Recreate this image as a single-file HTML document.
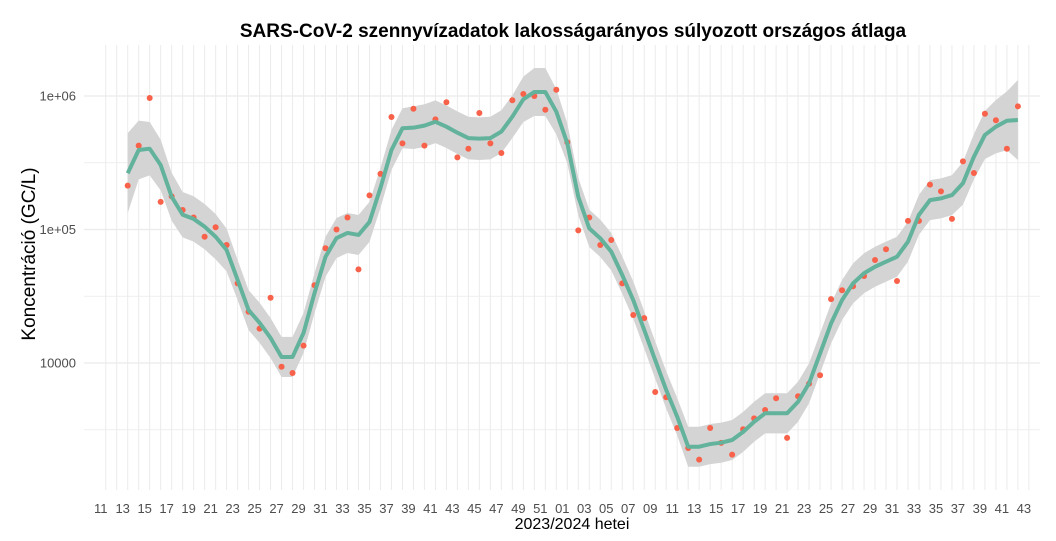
<!DOCTYPE html>
<html><head><meta charset="utf-8"><style>
html,body{margin:0;padding:0;background:#fff;}
svg{display:block;font-family:"Liberation Sans",sans-serif;}
</style></head><body>
<svg id="chart" width="1056" height="541" viewBox="0 0 1056 541">
<text x="573" y="37" text-anchor="middle" font-size="19" font-weight="bold" fill="#000">SARS-CoV-2 szennyvízadatok lakosságarányos súlyozott országos átlaga</text>
<text transform="translate(35,254) rotate(-90)" text-anchor="middle" font-size="19" fill="#000">Koncentráció (GC/L)</text>
<text x="572" y="529" text-anchor="middle" font-size="16" fill="#000">2023/2024 hetei</text>
<g id="grid"></g>
<g id="ribbon"></g>
<g id="points"></g>
<g id="line"></g>
<g id="axes"></g>
</svg>
<script>
const weekLabels = ["11","13","15","17","19","21","23","25","27","29","31","33","35","37","39","41","43","45","47","49","51","01","03","05","07","09","11","13","15","17","19","21","23","25","27","29","31","33","35","37","39","41","43"];
const yTicks = [1000000, 100000, 10000];
const yTickLabels = ["1e+06", "1e+05", "10000"];
const pointValues = [213000,425000,966000,161000,177000,140000,123000,88300,104000,76500,39500,24200,18100,30800,9380,8410,13500,38200,72300,100000,123000,50300,180000,261000,696000,442000,803000,425000,668000,897000,347000,403000,746000,442000,374000,929000,1035000,1000000,789000,1114000,450000,98600,123000,76500,83400,39500,22900,21700,6070,5540,3260,2310,1890,3260,2520,2060,3190,3850,4450,5440,2750,5630,7000,8090,30100,35100,37600,44800,59100,71100,41100,116000,116000,217000,193000,120000,324000,265000,736000,658000,403000,837000];
const smoothValues = [264000,394000,403000,304000,176000,129000,120000,105000,88300,70200,41900,24900,20000,15400,11100,11100,16800,33400,62500,86300,94200,91000,114000,205000,394000,573000,579000,600000,641000,589000,531000,484000,479000,484000,541000,700000,944000,1072000,1072000,763000,442000,176000,102000,85900,68200,45600,29600,17700,10500,6280,3960,2360,2360,2470,2530,2650,3050,3630,4200,4200,4200,5130,7050,11800,19800,29600,39500,47000,52600,57400,62500,81100,129000,166000,171000,181000,222000,351000,511000,589000,653000,661000];
const bandHalfLog = [0.3,0.22,0.2,0.19,0.18,0.17,0.17,0.17,0.17,0.16,0.15,0.15,0.15,0.15,0.15,0.15,0.15,0.15,0.15,0.15,0.15,0.15,0.15,0.15,0.15,0.15,0.16,0.16,0.16,0.16,0.16,0.16,0.16,0.16,0.16,0.16,0.17,0.18,0.18,0.17,0.15,0.14,0.14,0.14,0.14,0.14,0.14,0.14,0.14,0.14,0.14,0.15,0.15,0.15,0.15,0.15,0.15,0.15,0.15,0.15,0.15,0.15,0.15,0.15,0.15,0.15,0.15,0.15,0.15,0.15,0.15,0.15,0.15,0.15,0.15,0.15,0.16,0.17,0.18,0.2,0.22,0.3];

const NS="http://www.w3.org/2000/svg";
const px0=127.7, pw=10.99; // index 0 = 2023 week 13
const X=i=>px0+pw*i;
const Y=v=>96+(6-Math.log10(v))*133.5;
const YL=l=>96+(6-l)*133.5;
const L=84,R=1040,T=45,B=490;
function mk(tag,attrs,parent){const e=document.createElementNS(NS,tag);for(const k in attrs)e.setAttribute(k,attrs[k]);parent.appendChild(e);return e;}
const grid=document.getElementById('grid');
for(let i=-2;i<=82;i++){const x=X(i);
 const ln=mk('line',{x1:x,x2:x,y1:T,y2:B,stroke:'#ebebeb','stroke-width':1},grid);
 
 }
for(let l=3;l<=6.5;l+=0.5){const y=YL(l);if(y<T||y>B)continue;
 const ln=mk('line',{x1:L,x2:R,y1:y,y2:y,stroke:'#ebebeb','stroke-width':Number.isInteger(l)?1.2:0.8},grid);
 
 }
let up=[],dn=[];
smoothValues.forEach((v,i)=>{const lg=Math.log10(v);up.push(X(i)+','+YL(lg+bandHalfLog[i]));dn.unshift(X(i)+','+YL(lg-bandHalfLog[i]));});
const rb=mk('polygon',{points:up.concat(dn).join(' '),fill:'#d4d4d4'},document.getElementById('ribbon'));


const pg=document.getElementById('points');
pointValues.forEach((v,i)=>{const c=mk('circle',{cx:X(i),cy:Y(v),r:3,fill:'#f8614a'},pg);
 
 });
const pl=mk('polyline',{points:smoothValues.map((v,i)=>X(i)+','+Y(v)).join(' '),fill:'none',stroke:'#62b29c','stroke-width':4,'stroke-linejoin':'round'},document.getElementById('line'));


const ax=document.getElementById('axes');
yTicks.forEach((v,k)=>{const t=mk('text',{x:76,y:Y(v)+4.5,'text-anchor':'end','font-size':13,fill:'#4d4d4d'},ax);t.textContent=yTickLabels[k];
 
 });
weekLabels.forEach((s,k)=>{const i=-2+2*k;const t=mk('text',{x:X(i)-5,y:513,'text-anchor':'middle','font-size':13,fill:'#4d4d4d'},ax);t.textContent=s;
 
 });
</script>
</body></html>
